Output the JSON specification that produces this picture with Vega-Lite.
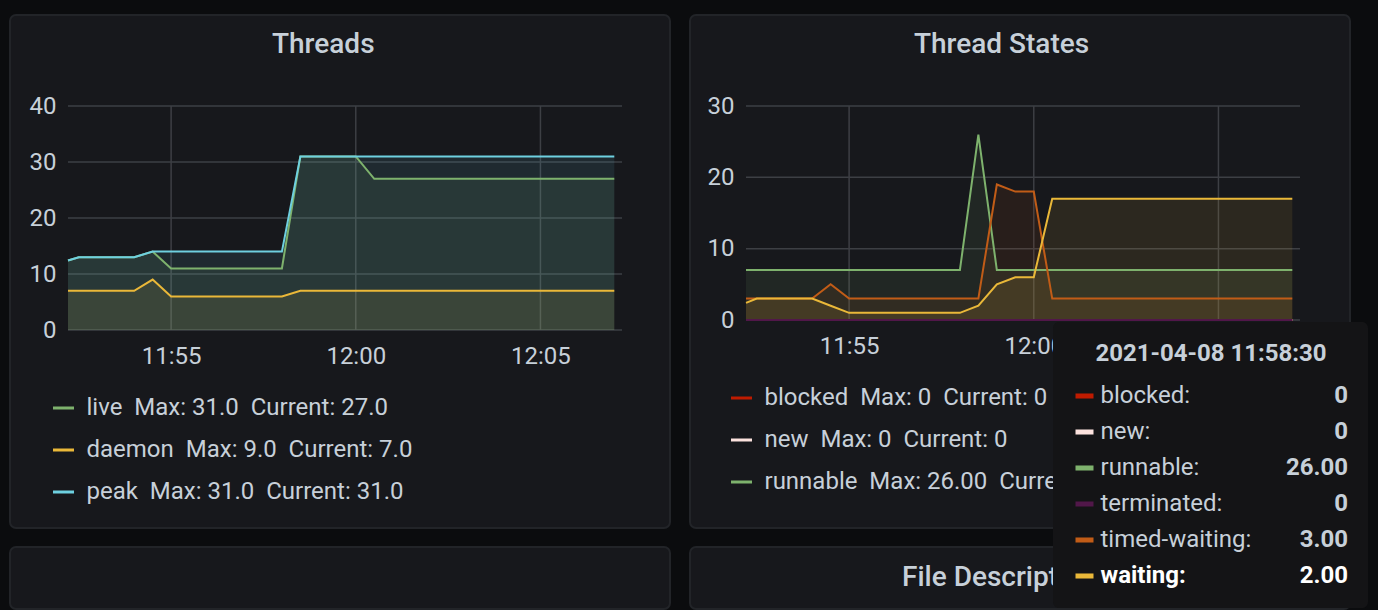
{
  "$schema": "https://vega.github.io/schema/vega-lite/v6.json",
  "background": "#0b0c0e",
  "padding": {"left": 9, "top": 14, "right": 11, "bottom": 0},
  "autosize": {"type": "pad"},
  "bounds": "flush",
  "config": {
    "font": "Roboto",
    "view": {"fill": "#17181c", "stroke": "#222428", "strokeWidth": 2, "cornerRadius": 6},
    "axis": {"grid": false, "domain": false, "ticks": false, "tickSize": 0, "labelFont": "Roboto", "labelFontSize": 24, "labelColor": "#c7d0d9", "labelFlush": false, "labelOverlap": false},
    "legend": {"labelFont": "Roboto", "labelFontSize": 24, "labelColor": "#c7d0d9", "labelLimit": 800, "titleLimit": 800, "padding": 0},
    "title": {"font": "Roboto", "fontSize": 28, "fontWeight": 500, "color": "#c7d0d9", "anchor": "start", "frame": "group", "offset": 0, "baseline": "alphabetic"}
  },
  "datasets": {
    "threads": [
      {"t": "2021-04-08T11:52:12.500", "live": 12.4, "daemon": 7, "peak": 12.4},
      {"t": "2021-04-08T11:52:30", "live": 13, "daemon": 7, "peak": 13},
      {"t": "2021-04-08T11:53:00", "live": 13, "daemon": 7, "peak": 13},
      {"t": "2021-04-08T11:53:30", "live": 13, "daemon": 7, "peak": 13},
      {"t": "2021-04-08T11:54:00", "live": 13, "daemon": 7, "peak": 13},
      {"t": "2021-04-08T11:54:30", "live": 14, "daemon": 9, "peak": 14},
      {"t": "2021-04-08T11:55:00", "live": 11, "daemon": 6, "peak": 14},
      {"t": "2021-04-08T11:55:30", "live": 11, "daemon": 6, "peak": 14},
      {"t": "2021-04-08T11:56:00", "live": 11, "daemon": 6, "peak": 14},
      {"t": "2021-04-08T11:56:30", "live": 11, "daemon": 6, "peak": 14},
      {"t": "2021-04-08T11:57:00", "live": 11, "daemon": 6, "peak": 14},
      {"t": "2021-04-08T11:57:30", "live": 11, "daemon": 6, "peak": 14},
      {"t": "2021-04-08T11:58:00", "live": 11, "daemon": 6, "peak": 14},
      {"t": "2021-04-08T11:58:30", "live": 31, "daemon": 7, "peak": 31},
      {"t": "2021-04-08T11:59:00", "live": 31, "daemon": 7, "peak": 31},
      {"t": "2021-04-08T11:59:30", "live": 31, "daemon": 7, "peak": 31},
      {"t": "2021-04-08T12:00:00", "live": 31, "daemon": 7, "peak": 31},
      {"t": "2021-04-08T12:00:30", "live": 27, "daemon": 7, "peak": 31},
      {"t": "2021-04-08T12:01:00", "live": 27, "daemon": 7, "peak": 31},
      {"t": "2021-04-08T12:01:30", "live": 27, "daemon": 7, "peak": 31},
      {"t": "2021-04-08T12:02:00", "live": 27, "daemon": 7, "peak": 31},
      {"t": "2021-04-08T12:02:30", "live": 27, "daemon": 7, "peak": 31},
      {"t": "2021-04-08T12:03:00", "live": 27, "daemon": 7, "peak": 31},
      {"t": "2021-04-08T12:03:30", "live": 27, "daemon": 7, "peak": 31},
      {"t": "2021-04-08T12:04:00", "live": 27, "daemon": 7, "peak": 31},
      {"t": "2021-04-08T12:04:30", "live": 27, "daemon": 7, "peak": 31},
      {"t": "2021-04-08T12:05:00", "live": 27, "daemon": 7, "peak": 31},
      {"t": "2021-04-08T12:05:30", "live": 27, "daemon": 7, "peak": 31},
      {"t": "2021-04-08T12:06:00", "live": 27, "daemon": 7, "peak": 31},
      {"t": "2021-04-08T12:06:30", "live": 27, "daemon": 7, "peak": 31},
      {"t": "2021-04-08T12:07:00", "live": 27, "daemon": 7, "peak": 31}
    ],
    "states": [
      {"t": "2021-04-08T11:52:12.500", "blocked": 0, "new": 0, "runnable": 7, "terminated": 0, "timed-waiting": 3, "waiting": 2.4},
      {"t": "2021-04-08T11:52:30", "blocked": 0, "new": 0, "runnable": 7, "terminated": 0, "timed-waiting": 3, "waiting": 3},
      {"t": "2021-04-08T11:53:00", "blocked": 0, "new": 0, "runnable": 7, "terminated": 0, "timed-waiting": 3, "waiting": 3},
      {"t": "2021-04-08T11:53:30", "blocked": 0, "new": 0, "runnable": 7, "terminated": 0, "timed-waiting": 3, "waiting": 3},
      {"t": "2021-04-08T11:54:00", "blocked": 0, "new": 0, "runnable": 7, "terminated": 0, "timed-waiting": 3, "waiting": 3},
      {"t": "2021-04-08T11:54:30", "blocked": 0, "new": 0, "runnable": 7, "terminated": 0, "timed-waiting": 5, "waiting": 2},
      {"t": "2021-04-08T11:55:00", "blocked": 0, "new": 0, "runnable": 7, "terminated": 0, "timed-waiting": 3, "waiting": 1},
      {"t": "2021-04-08T11:55:30", "blocked": 0, "new": 0, "runnable": 7, "terminated": 0, "timed-waiting": 3, "waiting": 1},
      {"t": "2021-04-08T11:56:00", "blocked": 0, "new": 0, "runnable": 7, "terminated": 0, "timed-waiting": 3, "waiting": 1},
      {"t": "2021-04-08T11:56:30", "blocked": 0, "new": 0, "runnable": 7, "terminated": 0, "timed-waiting": 3, "waiting": 1},
      {"t": "2021-04-08T11:57:00", "blocked": 0, "new": 0, "runnable": 7, "terminated": 0, "timed-waiting": 3, "waiting": 1},
      {"t": "2021-04-08T11:57:30", "blocked": 0, "new": 0, "runnable": 7, "terminated": 0, "timed-waiting": 3, "waiting": 1},
      {"t": "2021-04-08T11:58:00", "blocked": 0, "new": 0, "runnable": 7, "terminated": 0, "timed-waiting": 3, "waiting": 1},
      {"t": "2021-04-08T11:58:30", "blocked": 0, "new": 0, "runnable": 26, "terminated": 0, "timed-waiting": 3, "waiting": 2},
      {"t": "2021-04-08T11:59:00", "blocked": 0, "new": 0, "runnable": 7, "terminated": 0, "timed-waiting": 19, "waiting": 5},
      {"t": "2021-04-08T11:59:30", "blocked": 0, "new": 0, "runnable": 7, "terminated": 0, "timed-waiting": 18, "waiting": 6},
      {"t": "2021-04-08T12:00:00", "blocked": 0, "new": 0, "runnable": 7, "terminated": 0, "timed-waiting": 18, "waiting": 6},
      {"t": "2021-04-08T12:00:30", "blocked": 0, "new": 0, "runnable": 7, "terminated": 0, "timed-waiting": 3, "waiting": 17},
      {"t": "2021-04-08T12:01:00", "blocked": 0, "new": 0, "runnable": 7, "terminated": 0, "timed-waiting": 3, "waiting": 17},
      {"t": "2021-04-08T12:01:30", "blocked": 0, "new": 0, "runnable": 7, "terminated": 0, "timed-waiting": 3, "waiting": 17},
      {"t": "2021-04-08T12:02:00", "blocked": 0, "new": 0, "runnable": 7, "terminated": 0, "timed-waiting": 3, "waiting": 17},
      {"t": "2021-04-08T12:02:30", "blocked": 0, "new": 0, "runnable": 7, "terminated": 0, "timed-waiting": 3, "waiting": 17},
      {"t": "2021-04-08T12:03:00", "blocked": 0, "new": 0, "runnable": 7, "terminated": 0, "timed-waiting": 3, "waiting": 17},
      {"t": "2021-04-08T12:03:30", "blocked": 0, "new": 0, "runnable": 7, "terminated": 0, "timed-waiting": 3, "waiting": 17},
      {"t": "2021-04-08T12:04:00", "blocked": 0, "new": 0, "runnable": 7, "terminated": 0, "timed-waiting": 3, "waiting": 17},
      {"t": "2021-04-08T12:04:30", "blocked": 0, "new": 0, "runnable": 7, "terminated": 0, "timed-waiting": 3, "waiting": 17},
      {"t": "2021-04-08T12:05:00", "blocked": 0, "new": 0, "runnable": 7, "terminated": 0, "timed-waiting": 3, "waiting": 17},
      {"t": "2021-04-08T12:05:30", "blocked": 0, "new": 0, "runnable": 7, "terminated": 0, "timed-waiting": 3, "waiting": 17},
      {"t": "2021-04-08T12:06:00", "blocked": 0, "new": 0, "runnable": 7, "terminated": 0, "timed-waiting": 3, "waiting": 17},
      {"t": "2021-04-08T12:06:30", "blocked": 0, "new": 0, "runnable": 7, "terminated": 0, "timed-waiting": 3, "waiting": 17},
      {"t": "2021-04-08T12:07:00", "blocked": 0, "new": 0, "runnable": 7, "terminated": 0, "timed-waiting": 3, "waiting": 17}
    ]
  },
  "columns": 2,
  "spacing": {"row": 19, "column": 20},
  "resolve": {
    "scale": {"color": "independent", "stroke": "independent", "x": "independent", "y": "independent"},
    "legend": {"color": "independent", "stroke": "independent"}
  },
  "concat": [
    {
      "width": 660, "height": 513,
      "title": {"text": "Threads", "dx": 262, "dy": 48},
      "layer": [
        {
          "data": {"values": [{"g": 0}, {"g": 10}, {"g": 20}, {"g": 30}, {"g": 40}]},
          "mark": {"type": "rule", "color": "#3d3f44", "strokeWidth": 1.5},
          "encoding": {
            "y": {"field": "g", "type": "quantitative", "scale": {"domain": [0, 40], "range": [315, 91], "nice": false, "zero": false}, "axis": {"values": [0, 10, 20, 30, 40], "offset": -58, "labelPadding": 12, "title": null}},
            "x": {"datum": {"year": 2021, "month": 4, "date": 8, "hours": 11, "minutes": 52, "seconds": 12, "milliseconds": 500}, "type": "temporal", "scale": {"domain": [{"year": 2021, "month": 4, "date": 8, "hours": 11, "minutes": 52, "seconds": 12, "milliseconds": 500}, {"year": 2021, "month": 4, "date": 8, "hours": 12, "minutes": 7, "seconds": 12, "milliseconds": 500}], "range": [58, 612], "nice": false}, "axis": {"values": [{"year": 2021, "month": 4, "date": 8, "hours": 11, "minutes": 55}, {"year": 2021, "month": 4, "date": 8, "hours": 12, "minutes": 0}, {"year": 2021, "month": 4, "date": 8, "hours": 12, "minutes": 5}], "format": "%H:%M", "offset": -198, "labelPadding": 33, "labelBaseline": "alphabetic", "title": null}},
            "x2": {"datum": {"year": 2021, "month": 4, "date": 8, "hours": 12, "minutes": 7, "seconds": 12, "milliseconds": 500}}
          }
        },
        {
          "data": {"values": [{"g": "2021-04-08T11:55:00"}, {"g": "2021-04-08T12:00:00"}, {"g": "2021-04-08T12:05:00"}]},
          "mark": {"type": "rule", "color": "#3d3f44", "strokeWidth": 1.5},
          "encoding": {
            "x": {"field": "g", "type": "temporal"},
            "y": {"datum": 0, "type": "quantitative"},
            "y2": {"datum": 40}
          }
        },
        {
          "data": {"name": "threads"},
          "transform": [{"fold": ["live", "daemon", "peak"], "as": ["series", "v"]}],
          "mark": {"type": "area", "opacity": 0.1},
          "encoding": {
            "x": {"field": "t", "type": "temporal"},
            "y": {"field": "v", "type": "quantitative", "stack": null},
            "color": {"field": "series", "type": "nominal", "scale": {"range": ["#EAB839", "#7EB26D", "#6ED0E0"]}, "legend": null}
          }
        },
        {
          "data": {"name": "threads"},
          "transform": [{"fold": ["live", "daemon", "peak"], "as": ["series", "v"]}],
          "mark": {"type": "line", "strokeWidth": 2},
          "encoding": {
            "x": {"field": "t", "type": "temporal"},
            "y": {"field": "v", "type": "quantitative"},
            "stroke": {"field": "series", "type": "nominal", "scale": {"domain": ["live", "daemon", "peak"], "range": ["#7EB26D", "#EAB839", "#6ED0E0"]},
              "legend": {"orient": "none", "legendX": 41.5, "legendY": 381, "title": null, "direction": "vertical", "symbolType": "stroke", "symbolSize": 441, "symbolStrokeWidth": 3, "labelOffset": 11, "rowPadding": 18,
                "labelExpr": "datum.label == 'live' ? 'live\u00a0\u00a0Max: 31.0\u00a0\u00a0Current: 27.0' : datum.label == 'daemon' ? 'daemon\u00a0\u00a0Max: 9.0\u00a0\u00a0Current: 7.0' : 'peak\u00a0\u00a0Max: 31.0\u00a0\u00a0Current: 31.0'"}}
          }
        }
      ]
    },
    {
      "width": 660, "height": 513,
      "title": {"text": "Thread States", "dx": 224, "dy": 48},
      "layer": [
        {
          "data": {"values": [{"g": 0}, {"g": 10}, {"g": 20}, {"g": 30}]},
          "mark": {"type": "rule", "color": "#3d3f44", "strokeWidth": 1.5},
          "encoding": {
            "y": {"field": "g", "type": "quantitative", "scale": {"domain": [0, 30], "range": [305, 91], "nice": false, "zero": false}, "axis": {"values": [0, 10, 20, 30], "offset": -56, "labelPadding": 12, "title": null}},
            "x": {"datum": {"year": 2021, "month": 4, "date": 8, "hours": 11, "minutes": 52, "seconds": 12, "milliseconds": 500}, "type": "temporal", "scale": {"domain": [{"year": 2021, "month": 4, "date": 8, "hours": 11, "minutes": 52, "seconds": 12, "milliseconds": 500}, {"year": 2021, "month": 4, "date": 8, "hours": 12, "minutes": 7, "seconds": 12, "milliseconds": 500}], "range": [56, 610], "nice": false}, "axis": {"values": [{"year": 2021, "month": 4, "date": 8, "hours": 11, "minutes": 55}, {"year": 2021, "month": 4, "date": 8, "hours": 12, "minutes": 0}, {"year": 2021, "month": 4, "date": 8, "hours": 12, "minutes": 5}], "format": "%H:%M", "offset": -208, "labelPadding": 33, "labelBaseline": "alphabetic", "title": null}},
            "x2": {"datum": {"year": 2021, "month": 4, "date": 8, "hours": 12, "minutes": 7, "seconds": 12, "milliseconds": 500}}
          }
        },
        {
          "data": {"values": [{"g": "2021-04-08T11:55:00"}, {"g": "2021-04-08T12:00:00"}, {"g": "2021-04-08T12:05:00"}]},
          "mark": {"type": "rule", "color": "#3d3f44", "strokeWidth": 1.5},
          "encoding": {
            "x": {"field": "g", "type": "temporal"},
            "y": {"datum": 0, "type": "quantitative"},
            "y2": {"datum": 30}
          }
        },
        {
          "data": {"name": "states"},
          "transform": [{"fold": ["blocked", "new", "runnable", "terminated", "timed-waiting", "waiting"], "as": ["state", "v"]}],
          "mark": {"type": "area"},
          "encoding": {
            "x": {"field": "t", "type": "temporal"},
            "y": {"field": "v", "type": "quantitative", "stack": null},
            "fill": {"field": "state", "type": "nominal", "scale": {"domain": ["blocked", "new", "runnable", "terminated", "timed-waiting", "waiting"], "range": ["#BF1B00", "#FCE2DE", "#7EB26D", "#511749", "#C15C17", "#EAB839"]},
              "legend": {"orient": "none", "legendX": 1062.5, "legendY": 369, "title": null, "direction": "vertical", "symbolType": "M-1,-0.28H1V0.28H-1Z", "symbolSize": 324, "symbolStrokeWidth": 0, "symbolOpacity": 1, "labelOffset": 4, "rowPadding": 12, "zindex": 2,
                "labelExpr": "datum.label + ':'",
                "labelColor": {"expr": "datum.label == 'waiting' ? '#ffffff' : '#c7d0d9'"},
                "labelFontWeight": {"expr": "datum.label == 'waiting' ? 'bold' : 'normal'"}}},
            "opacity": {"field": "state", "type": "ordinal", "scale": {"range": [0.1, 0.1, 0.1, 0.1, 0.1, 0.1]},
              "legend": {"orient": "none", "legendX": 1043, "legendY": 307, "title": "2021-04-08 11:58:30", "titleFontSize": 24, "titleFontWeight": "bold", "titleColor": "#c7d0d9", "titleFont": "Roboto", "titleAnchor": "middle", "titleAlign": "center", "titlePadding": 18,
                "padding": 20, "fillColor": "#141416", "cornerRadius": 6, "direction": "vertical",
                "symbolSize": 1, "symbolFillColor": "transparent", "symbolStrokeColor": "transparent", "symbolStrokeWidth": 0, "symbolOpacity": 0,
                "labelAlign": "right", "labelOffset": 251, "labelFontWeight": "bold", "rowPadding": 12, "zindex": 1,
                "labelExpr": "datum.label == 'runnable' ? '26.00' : datum.label == 'timed-waiting' ? '3.00' : datum.label == 'waiting' ? '2.00' : '0'",
                "labelColor": {"expr": "datum.label == 'waiting' ? '#ffffff' : '#c7d0d9'"}}}
          }
        },
        {
          "data": {"name": "states"},
          "transform": [{"fold": ["blocked", "new", "runnable", "terminated", "timed-waiting", "waiting"], "as": ["state", "v"]}],
          "mark": {"type": "line", "strokeWidth": 2},
          "encoding": {
            "x": {"field": "t", "type": "temporal"},
            "y": {"field": "v", "type": "quantitative"},
            "stroke": {"field": "state", "type": "nominal", "scale": {"domain": ["blocked", "new", "runnable", "terminated", "timed-waiting", "waiting"], "range": ["#BF1B00", "#FCE2DE", "#7EB26D", "#511749", "#C15C17", "#EAB839"]},
              "legend": {"orient": "none", "legendX": 39.5, "legendY": 371, "title": null, "direction": "vertical", "values": ["blocked", "new", "runnable"], "symbolType": "stroke", "symbolSize": 441, "symbolStrokeWidth": 3, "labelOffset": 11, "rowPadding": 18,
                "labelExpr": "datum.label == 'blocked' ? 'blocked\u00a0\u00a0Max: 0\u00a0\u00a0Current: 0' : datum.label == 'new' ? 'new\u00a0\u00a0Max: 0\u00a0\u00a0Current: 0' : datum.label == 'runnable' ? 'runnable\u00a0\u00a0Max: 26.00\u00a0\u00a0Current: 7.00' : datum.label"}}
          }
        }
      ]
    },
    {
      "width": 660, "height": 62,
      "view": {"fill": "#17181c", "stroke": "#222428", "strokeWidth": 2, "cornerRadius": 6},
      "data": {"values": []},
      "mark": "point",
      "encoding": {}
    },
    {
      "width": 660, "height": 62,
      "view": {"fill": "#17181c", "stroke": "#222428", "strokeWidth": 2, "cornerRadius": 6},
      "title": {"text": "File Descriptors", "dx": 212, "dy": 49},
      "data": {"values": []},
      "mark": "point",
      "encoding": {}
    }
  ]
}
